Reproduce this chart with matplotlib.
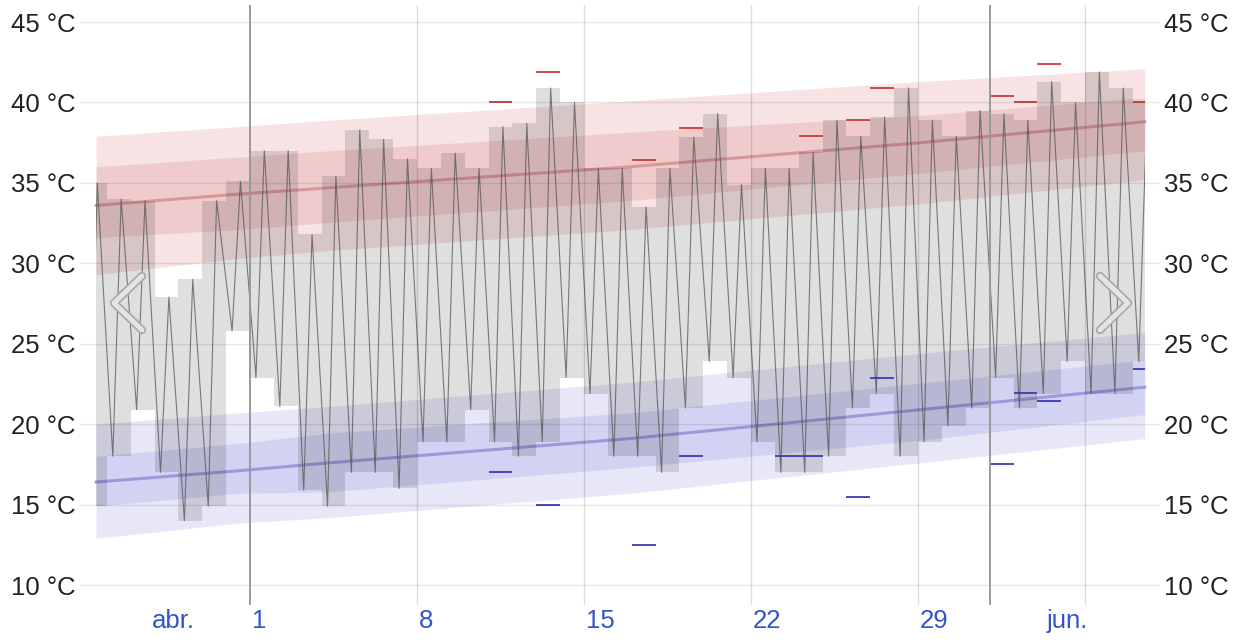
import numpy as np
import matplotlib
matplotlib.use("Agg")
import matplotlib.pyplot as plt
from matplotlib.patches import Rectangle
from matplotlib.lines import Line2D

plt.rcParams["font.family"] = ["Liberation Sans", "DejaVu Sans"]

# days counted from 1 May (day 0)
days = np.arange(-7, 38)
daily_high = [35.0, 34.0, 33.9, 27.9, 29.0, 33.9, 35.1,
              37.0, 37.0, 31.8, 35.4, 38.3, 37.7, 36.5,
              35.9, 36.85, 35.9, 38.5, 38.7, 40.9, 40.0,
              35.9, 35.9, 33.5, 35.9, 37.85, 39.3, 34.9,
              35.9, 35.9, 36.9, 38.9, 37.9, 39.1, 40.9,
              38.9, 37.9, 39.5, 39.3, 38.9, 41.3, 40.0,
              41.9, 40.9, 40.0]
daily_low = [14.9, 18.0, 20.9, 17.0, 14.0, 14.9, 25.8,
             22.9, 21.1, 15.9, 14.9, 17.0, 17.0, 16.0,
             18.9, 18.9, 20.9, 18.9, 18.0, 18.9, 22.9,
             21.9, 18.0, 18.0, 17.0, 21.0, 23.9, 22.9,
             18.9, 17.0, 17.0, 18.0, 21.0, 21.9, 18.0,
             18.9, 19.9, 21.0, 22.9, 21.0, 21.9, 23.9,
             21.9, 21.9, 23.9]

# climate normals
norm_days = [-6.45, -0.5, 3.35, 15.9, 28.1, 37.5]
hi_p90 = [37.9, 38.5, 38.9, 40.1, 41.3, 42.1]
hi_p75 = [36.0, 36.6, 37.0, 38.15, 39.2, 40.3]
hi_mean = [33.6, 34.3, 34.7, 36.0, 37.5, 38.8]
hi_p25 = [31.6, 32.1, 32.55, 33.9, 35.6, 37.0]
hi_p10 = [29.3, 30.3, 30.8, 32.1, 33.7, 35.2]
lo_p90 = [20.0, 20.7, 21.1, 22.6, 24.4, 25.7]
lo_p75 = [18.0, 18.8, 19.45, 20.7, 22.55, 24.0]
lo_mean = [16.4, 17.1, 17.6, 19.1, 20.9, 22.3]
lo_p25 = [14.9, 15.7, 15.8, 17.3, 19.0, 20.6]
lo_p10 = [12.9, 13.85, 14.2, 15.7, 17.6, 19.1]

# record highs / lows
rec_high_days = [10, 12, 16, 18, 23, 25, 26, 31, 32, 33, 37]
rec_high_vals = [40.0, 41.9, 36.45, 38.4, 37.9, 38.9, 40.9, 40.4, 40.0, 42.4, 40.0]
rec_low_days = [10, 12, 16, 18, 22, 23, 25, 26, 31, 32, 33, 37]
rec_low_vals = [17.0, 15.0, 12.5, 18.0, 18.0, 18.0, 15.5, 22.9, 17.5, 21.95, 21.45, 23.45]

week_ticks = [0, 7, 14, 21, 28]
week_labels = ["1", "8", "15", "22", "29"]
month_bounds = [0, 31]
month_labels = [("abr.", -3.2), ("jun.", 34.25)]
y_ticks = [10, 15, 20, 25, 30, 35, 40, 45]

data_start, data_end = -6.45, 37.5

fig = plt.figure(figsize=(12.42, 6.4), dpi=100)
ax = fig.add_axes([80 / 1242, 35 / 640, 1080 / 1242, 600 / 640])
ax.set_xlim(-7.125, 38.14)
ax.set_ylim(8.757, 46.06)
for s in ax.spines.values():
    s.set_visible(False)

red = (200 / 255, 60 / 255, 60 / 255)
blue = (60 / 255, 60 / 255, 200 / 255)
clip = Rectangle((data_start, 0), data_end - data_start, 60, transform=ax.transData)

# percentile bands
ax.fill_between(norm_days, hi_p10, hi_p90, color=red, alpha=0.14, lw=0, zorder=1)
ax.fill_between(norm_days, hi_p25, hi_p75, color=red, alpha=0.14, lw=0, zorder=1)
ax.fill_between(norm_days, lo_p10, lo_p90, color=blue, alpha=0.12, lw=0, zorder=1)
ax.fill_between(norm_days, lo_p25, lo_p75, color=blue, alpha=0.12, lw=0, zorder=1)
ax.plot(norm_days, hi_mean, color="#d48f90", lw=2.2, alpha=0.85, zorder=2)
ax.plot(norm_days, lo_mean, color="#9090d8", lw=2.2, alpha=0.85, zorder=2)

# daily low-high bars
hi = np.array(daily_high)
lo = np.array(daily_low)
bars = ax.bar(days, hi - lo, bottom=lo, width=1, align="edge",
              color="black", alpha=0.125, lw=0, zorder=3)
for b in bars:
    b.set_clip_path(clip)

# hourly temperature trace
t = np.column_stack([days + 0.25, days + 0.6]).ravel()
v = np.column_stack([lo, hi]).ravel()
trace, = ax.plot(t, v, color="#555555", lw=0.8, alpha=0.75, zorder=4)
trace.set_clip_path(clip)

# records
rh = ax.hlines(rec_high_vals, rec_high_days, np.array(rec_high_days) + 1,
               color="#c83c3c", lw=1.3, zorder=5)
rl = ax.hlines(rec_low_vals, rec_low_days, np.array(rec_low_days) + 1,
               color="#3a3ab8", lw=1.3, zorder=5)
rh.set_clip_path(clip)
rl.set_clip_path(clip)

# grid
for y in y_ticks:
    ax.axhline(y, color="black", alpha=0.09, lw=1, zorder=6)
for d in week_ticks[1:] + [35]:
    ax.axvline(d, color="black", alpha=0.13, lw=1, zorder=6)
for d in month_bounds:
    ax.axvline(d, color="#999999", lw=1.4, zorder=6)

ax.set_yticks(y_ticks)
ax.set_yticklabels([f"{y} °C" for y in y_ticks])
ax.tick_params(axis="y", length=0, pad=3, labelsize=18.5, labelcolor="#222222",
               labelleft=True, labelright=True)
ax.set_xticks([])

blue_txt = "#2f55c8"
for d, lab in zip(week_ticks, week_labels):
    ax.text(d + 0.08, -0.026, lab, transform=ax.get_xaxis_transform(),
            ha="left", va="center", fontsize=18.5, color=blue_txt)
for lab, d in month_labels:
    ax.text(d, -0.026, lab, transform=ax.get_xaxis_transform(),
            ha="center", va="center", fontsize=18.5, color=blue_txt)

# scroll chevrons
def chevron(pts):
    xs = [p[0] / 1242 for p in pts]
    ys = [1 - p[1] / 640 for p in pts]
    fig.add_artist(Line2D(xs, ys, transform=fig.transFigure, color="#a8a8a8",
                          lw=6, solid_capstyle="round", solid_joinstyle="round", zorder=10))
    fig.add_artist(Line2D(xs, ys, transform=fig.transFigure, color="#e4e4e4",
                          lw=3.6, solid_capstyle="round", solid_joinstyle="round", zorder=11))

chevron([(142, 276), (114, 303), (142, 330)])
chevron([(1100, 276), (1128, 303), (1100, 330)])

fig.savefig("out.png", dpi=100, facecolor="white")
